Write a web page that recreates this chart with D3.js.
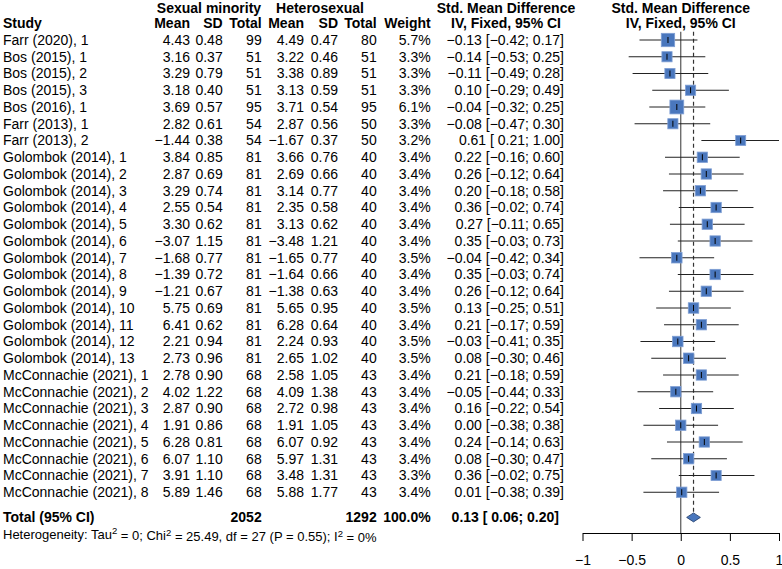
<!DOCTYPE html>
<html><head><meta charset="utf-8">
<script src="https://cdn.jsdelivr.net/npm/d3@7"></script>
<style>
body{margin:0;background:#fff;}
text{font-family:"Liberation Sans",Arial,sans-serif;white-space:pre;}
</style></head>
<body><svg id="c" width="782" height="569"></svg>
<script>
const studies = ["Farr (2020), 1","Bos (2015), 1","Bos (2015), 2","Bos (2015), 3","Bos (2016), 1","Farr (2013), 1","Farr (2013), 2",
"Golombok (2014), 1","Golombok (2014), 2","Golombok (2014), 3","Golombok (2014), 4","Golombok (2014), 5","Golombok (2014), 6","Golombok (2014), 7",
"Golombok (2014), 8","Golombok (2014), 9","Golombok (2014), 10","Golombok (2014), 11","Golombok (2014), 12","Golombok (2014), 13",
"McConnachie (2021), 1","McConnachie (2021), 2","McConnachie (2021), 3","McConnachie (2021), 4","McConnachie (2021), 5","McConnachie (2021), 6","McConnachie (2021), 7","McConnachie (2021), 8"];
const smMean = [4.43,3.16,3.29,3.18,3.69,2.82,-1.44,3.84,2.87,3.29,2.55,3.30,-3.07,-1.68,-1.39,-1.21,5.75,6.41,2.21,2.73,2.78,4.02,2.87,1.91,6.28,6.07,3.91,5.89];
const smSD = [0.48,0.37,0.79,0.40,0.57,0.61,0.38,0.85,0.69,0.74,0.54,0.62,1.15,0.77,0.72,0.67,0.69,0.62,0.94,0.96,0.90,1.22,0.90,0.86,0.81,1.10,1.10,1.46];
const smN = [99,51,51,51,95,54,54,81,81,81,81,81,81,81,81,81,81,81,81,81,68,68,68,68,68,68,68,68];
const hMean = [4.49,3.22,3.38,3.13,3.71,2.87,-1.67,3.66,2.69,3.14,2.35,3.13,-3.48,-1.65,-1.64,-1.38,5.65,6.28,2.24,2.65,2.58,4.09,2.72,1.91,6.07,5.97,3.48,5.88];
const hSD = [0.47,0.46,0.89,0.59,0.54,0.56,0.37,0.76,0.66,0.77,0.58,0.62,1.21,0.77,0.66,0.63,0.95,0.64,0.93,1.02,1.05,1.38,0.98,1.05,0.92,1.31,1.31,1.77];
const hN = [80,51,51,51,95,50,50,40,40,40,40,40,40,40,40,40,40,40,40,40,43,43,43,43,43,43,43,43];
const weight = [5.7,3.3,3.3,3.3,6.1,3.3,3.2,3.4,3.4,3.4,3.4,3.4,3.4,3.5,3.4,3.4,3.5,3.4,3.5,3.5,3.4,3.4,3.4,3.4,3.4,3.4,3.3,3.4];
const smd = [-0.13,-0.14,-0.11,0.10,-0.04,-0.08,0.61,0.22,0.26,0.20,0.36,0.27,0.35,-0.04,0.35,0.26,0.13,0.21,-0.03,0.08,0.21,-0.05,0.16,0.00,0.24,0.08,0.36,0.01];
const lower = [-0.42,-0.53,-0.49,-0.29,-0.32,-0.47,0.21,-0.16,-0.12,-0.18,-0.02,-0.11,-0.03,-0.42,-0.03,-0.12,-0.25,-0.17,-0.41,-0.30,-0.18,-0.44,-0.22,-0.38,-0.14,-0.30,-0.02,-0.38];
const upper = [0.17,0.25,0.28,0.49,0.25,0.30,1.00,0.60,0.64,0.58,0.74,0.65,0.73,0.34,0.74,0.64,0.51,0.59,0.35,0.46,0.59,0.33,0.54,0.38,0.63,0.47,0.75,0.39];
const total = {label:"Total (95% CI)", smN:2052, hN:1292, weight:100.0, smd:0.13, lower:0.06, upper:0.20};
const xTicks = [-1,-0.5,0,0.5,1];

const svg = d3.select("#c");
const FS = 14;
const f2 = d3.format(".2f");
const f1 = d3.format(".1f");
const pad = v => (v < 0 ? f2(v) : " " + f2(v));
const ciStr = (m,l,u) => pad(m) + " [" + pad(l) + "; " + f2(u) + "]";

const n = studies.length;
const y = d3.scaleLinear().domain([0, n-1]).range([40, 40 + (n-1)*16.75]);
const x = d3.scaleLinear().domain([-1, 1]).range([582.5, 779]);

const cols = [
  {key:"mean", x:190, arr:smMean, fmt:f2, head:"Mean"},
  {key:"sd", x:222.7, arr:smSD, fmt:f2, head:"SD"},
  {key:"n", x:261.7, arr:smN, fmt:d=>String(d), head:"Total"},
  {key:"mean2", x:304, arr:hMean, fmt:f2, head:"Mean"},
  {key:"sd2", x:338, arr:hSD, fmt:f2, head:"SD"},
  {key:"n2", x:376.7, arr:hN, fmt:d=>String(d), head:"Total"},
  {key:"w", x:430.7, arr:weight, fmt:d=>f1(d)+"%", head:"Weight"}
];

function txt(xp, yp, s, anchor, bold, size){
  return svg.append("text").attr("x", xp).attr("y", yp).attr("dy","0.35em")
    .attr("text-anchor", anchor).attr("font-size", size||FS)
    .attr("font-weight", bold ? "bold" : "normal").attr("fill","#000").text(s);
}

// headers
const h1 = 8.5, h2 = y(-1);
txt(209, h1, "Sexual minority", "middle", true);
txt(320, h1, "Heterosexual", "middle", true);
txt(506, h1, "Std. Mean Difference", "middle", true);
txt(506, h2, "IV, Fixed, 95% CI", "middle", true);
txt(x(0), h1, "Std. Mean Difference", "middle", true);
txt(x(0), h2, "IV, Fixed, 95% CI", "middle", true);
txt(3, h2, "Study", "start", true);
cols.forEach(c => txt(c.x, h2, c.head, "end", true));

// rows
studies.forEach((s,i) => {
  txt(3, y(i), s, "start", false);
  cols.forEach(c => txt(c.x, y(i), c.fmt(c.arr[i]), "end", false));
  txt(564, y(i), ciStr(smd[i], lower[i], upper[i]), "end", false);
});

// total row
const yt = y(n - 1 + 1.5);
txt(3, yt, total.label, "start", true);
txt(261.7, yt, String(total.smN), "end", true);
txt(376.7, yt, String(total.hN), "end", true);
txt(430.7, yt, f1(total.weight)+"%", "end", true);
txt(559, yt, ciStr(total.smd, total.lower, total.upper), "end", true);

// heterogeneity
const het = svg.append("text").attr("x",3).attr("y", y(n - 1 + 2.5)).attr("dy","0.35em")
  .attr("font-size",13).attr("fill","#000");
const parts = [["Heterogeneity: Tau",0],["2",1],[" = 0; Chi",0],["2",1],[" = 25.49, df = 27 (P = 0.55); I",0],["2",1],[" = 0%",0]];
parts.forEach((p, k) => {
  const t = het.append("tspan").text(p[0]);
  if (p[1]) t.attr("font-size", 9.5).attr("dy", "-0.45em");
  else if (k > 0) t.attr("dy", "0.42em");
});

// plot area
const axisY = 533;
const topY = y(-0.5);
svg.append("line").attr("x1",x(0)).attr("x2",x(0)).attr("y1",topY).attr("y2",axisY)
  .attr("stroke","#555").attr("stroke-width",1.2);
svg.append("line").attr("x1",x(total.smd)).attr("x2",x(total.smd)).attr("y1",topY).attr("y2",yt-4)
  .attr("stroke","#333").attr("stroke-width",1.2).attr("stroke-dasharray","4,3");

const g = svg.append("g");
studies.forEach((s,i) => {
  g.append("line").attr("x1", x(lower[i])).attr("x2", x(upper[i])).attr("y1", y(i)).attr("y2", y(i))
    .attr("stroke","#222").attr("stroke-width",1);
  const side = 5.6*Math.sqrt(weight[i]);
  g.append("rect").attr("x", x(smd[i]) - side/2).attr("y", y(i) - side/2).attr("width", side).attr("height", side)
    .attr("fill","#4a77bd").attr("stroke","#7f9fd4").attr("stroke-width",0.8);
  g.append("line").attr("x1", x(smd[i])).attr("x2", x(smd[i])).attr("y1", y(i)-3).attr("y2", y(i)+3)
    .attr("stroke","#000").attr("stroke-width",1);
});

// diamond
const dh = 4.5;
svg.append("path")
  .attr("d", `M${x(total.lower)},${yt} L${x(total.smd)},${yt-dh} L${x(total.upper)},${yt} L${x(total.smd)},${yt+dh} Z`)
  .attr("fill","#4a77bd").attr("stroke","#1f3a66").attr("stroke-width",0.8);

// axis
const ax = svg.append("g").attr("transform", `translate(0,${axisY})`)
  .call(d3.axisBottom(x).tickValues(xTicks).tickSize(8).tickSizeOuter(0).tickPadding(14).tickFormat(d3.format("")));
ax.selectAll("text").attr("font-size", FS).attr("font-family", '"Liberation Sans",Arial,sans-serif').attr("fill","#000");
ax.selectAll("line,path").attr("stroke","#000");
</script></body></html>
